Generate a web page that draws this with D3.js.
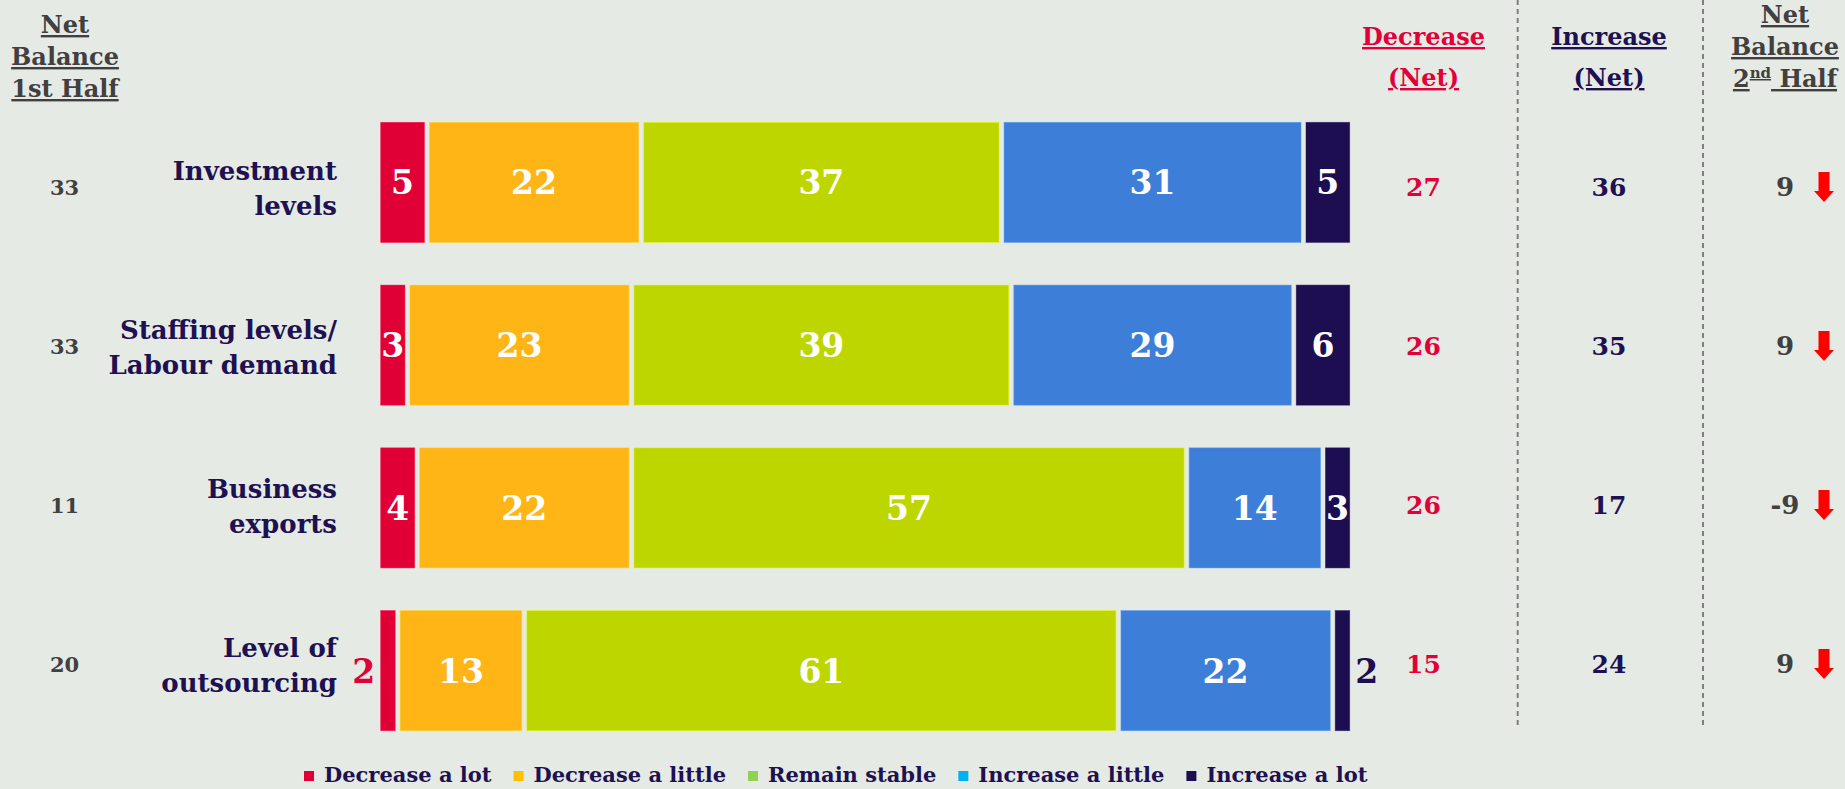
<!DOCTYPE html>
<html>
<head>
<meta charset="utf-8">
<script src="https://cdn.jsdelivr.net/npm/d3@7"></script>
<style>
  html, body { margin: 0; padding: 0; background: #E6EAE5; }
  svg { display: block; }
  text { font-family: "DejaVu Serif", Georgia, serif; font-weight: bold; }
</style>
</head>
<body>
<svg id="chart" width="1845" height="789"></svg>
<script>
// Survey categories, each label split over two lines
const categories = ["Investment levels", "Staffing levels/ Labour demand", "Business exports", "Level of outsourcing"];
const categoryLines = [["Investment", "levels"], ["Staffing levels/", "Labour demand"], ["Business", "exports"], ["Level of", "outsourcing"]];

// Share of respondents (%) per answer
const decreaseALot    = [5, 3, 4, 2];
const decreaseALittle = [22, 23, 22, 13];
const remainStable    = [37, 39, 57, 61];
const increaseALittle = [31, 29, 14, 22];
const increaseALot    = [5, 6, 3, 2];

// Net balance reported for the first half
const netBalanceFirstHalf = [33, 33, 11, 20];

const seriesNames  = ["Decrease a lot", "Decrease a little", "Remain stable", "Increase a little", "Increase a lot"];
const seriesColors = ["#E10036", "#FFB515", "#BED600", "#3D7FD8", "#1C0E50"];
const legendColors = ["#E10036", "#FFC000", "#92D050", "#00B0F0", "#1C0E50"];

const NAVY = "#1D1152", CRIMSON = "#E2003A", GREY = "#404040";

const svg = d3.select("#chart");

// Rows for stacking
const keys = ["dl", "dli", "rs", "ili", "il"];
const rows = categories.map((c, i) => ({
  cat: c,
  dl: decreaseALot[i], dli: decreaseALittle[i], rs: remainStable[i],
  ili: increaseALittle[i], il: increaseALot[i],
  first: netBalanceFirstHalf[i]
}));
rows.forEach(r => {
  r.decrease = r.dl + r.dli;
  r.increase = r.ili + r.il;
  r.second = r.increase - r.decrease;
});

const stack = d3.stack().keys(keys)(rows);

const x = d3.scaleLinear().domain([0, 100]).range([378.2, 1352.2]);
const y = d3.scaleBand().domain(categories).range([101, 752]).paddingInner(0.2623).paddingOuter(0.1311);
// Vertical positions of the text table rows
const ty = d3.scalePoint().domain(categories).range([187, 664]);

const GAP = 2.5;

// Stacked bars
const layers = svg.append("g").selectAll("g")
  .data(stack).join("g")
  .attr("fill", (d, i) => seriesColors[i]);

layers.selectAll("rect")
  .data(d => d.map(s => ({ s, key: d.key })))
  .join("rect")
  .attr("x", d => x(d.s[0]) + GAP)
  .attr("width", d => Math.max(0, x(d.s[1]) - x(d.s[0]) - 2 * GAP))
  .attr("y", d => y(d.s.data.cat))
  .attr("height", y.bandwidth())
  .attr("stroke", function () { return d3.color(d3.select(this.parentNode).attr("fill")).brighter(0.5); })
  .attr("stroke-width", 0.8)
  .attr("stroke-opacity", 0.6);

// Segment value labels: small end segments are labelled outside the bar
const LBL = 33;
stack.forEach((layer, li) => {
  layer.forEach(s => {
    const v = s[1] - s[0];
    const cy = y(s.data.cat) + y.bandwidth() / 2 + LBL * 0.36;
    let tx = (x(s[0]) + x(s[1])) / 2, anchor = "middle", fill = "#fff";
    if (v < 3) {
      fill = seriesColors[li];
      if (li === 0) { tx = x(s[0]) - 3; anchor = "end"; }
      else { tx = x(s[1]) + 3; anchor = "start"; }
    }
    svg.append("text")
      .attr("x", tx).attr("y", cy)
      .attr("text-anchor", anchor)
      .attr("fill", fill)
      .attr("font-size", LBL)
      .text(v);
  });
});

// Category labels
const catG = svg.append("g");
categories.forEach((c, i) => {
  const t = catG.append("text")
    .attr("text-anchor", "end")
    .attr("font-size", 26)
    .attr("fill", NAVY);
  categoryLines[i].forEach((line, k) => {
    t.append("tspan").attr("x", 337).attr("y", ty(c) - 7 + k * 35).text(line);
  });
});

// Column headers
function header(cx, lines, color, y0, dy) {
  const t = svg.append("text")
    .attr("text-anchor", "middle")
    .attr("font-size", 24)
    .attr("fill", color)
    .style("text-decoration", "underline");
  lines.forEach((line, k) => {
    const ts = t.append("tspan").attr("x", cx).attr("y", y0 + k * dy);
    if (Array.isArray(line)) {
      line.forEach(part => {
        const p = ts.append("tspan").text(part.t);
        if (part.sup) p.attr("font-size", 15).attr("dy", -9);
        if (part.after) p.attr("dy", 9);
      });
    } else {
      ts.text(line);
    }
  });
}
header(65, ["Net", "Balance", "1st Half"], GREY, 33, 32);
header(1423.5, ["Decrease", "(Net)"], CRIMSON, 45, 41);
header(1609, ["Increase", "(Net)"], NAVY, 45, 41);
header(1785, ["Net", "Balance", [{ t: "2" }, { t: "nd", sup: true }, { t: " Half", after: true }]], GREY, 23, 32);

// Dashed column separators
[1517.7, 1703].forEach(xx => {
  svg.append("line")
    .attr("x1", xx).attr("x2", xx)
    .attr("y1", 0).attr("y2", 727)
    .attr("stroke", "#808080")
    .attr("stroke-width", 2)
    .attr("stroke-dasharray", "5,4");
});

// First-half net balance column
svg.append("g").selectAll("text")
  .data(rows).join("text")
  .attr("x", 64.5).attr("y", d => ty(d.cat) + 21 * 0.36)
  .attr("text-anchor", "middle")
  .attr("font-size", 21)
  .attr("fill", GREY)
  .text(d => d.first);

// Decrease / Increase / second-half net columns
const VAL = 25;
svg.append("g").selectAll("text")
  .data(rows).join("text")
  .attr("x", 1423.5).attr("y", d => ty(d.cat) + VAL * 0.36)
  .attr("text-anchor", "middle").attr("font-size", VAL).attr("fill", CRIMSON)
  .text(d => d.decrease);

svg.append("g").selectAll("text")
  .data(rows).join("text")
  .attr("x", 1609).attr("y", d => ty(d.cat) + VAL * 0.36)
  .attr("text-anchor", "middle").attr("font-size", VAL).attr("fill", NAVY)
  .text(d => d.increase);

svg.append("g").selectAll("text")
  .data(rows).join("text")
  .attr("x", 1785).attr("y", d => ty(d.cat) + 26 * 0.36)
  .attr("text-anchor", "middle").attr("font-size", 26).attr("fill", GREY)
  .text(d => d.second);

// Direction arrows: change from first half to second half
const arrowDown = "M-5.5,-15 L5.5,-15 L5.5,4 L10,4 L0,15 L-10,4 L-5.5,4 Z";
svg.append("g").selectAll("path")
  .data(rows).join("path")
  .attr("d", arrowDown)
  .attr("transform", d => `translate(1824,${ty(d.cat)}) ${d.second < d.first ? "" : "rotate(180)"}`)
  .attr("fill", "#FF0000");

// Legend
const legend = svg.append("g");
let lx = 304;
seriesNames.forEach((name, i) => {
  legend.append("rect")
    .attr("x", lx).attr("y", 771)
    .attr("width", 10).attr("height", 10)
    .attr("fill", legendColors[i]);
  const t = legend.append("text")
    .attr("x", lx + 20).attr("y", 782)
    .attr("font-size", 21)
    .attr("fill", NAVY)
    .text(name);
  lx += 20 + t.node().getComputedTextLength() + 22;
});
</script>
</body>
</html>
